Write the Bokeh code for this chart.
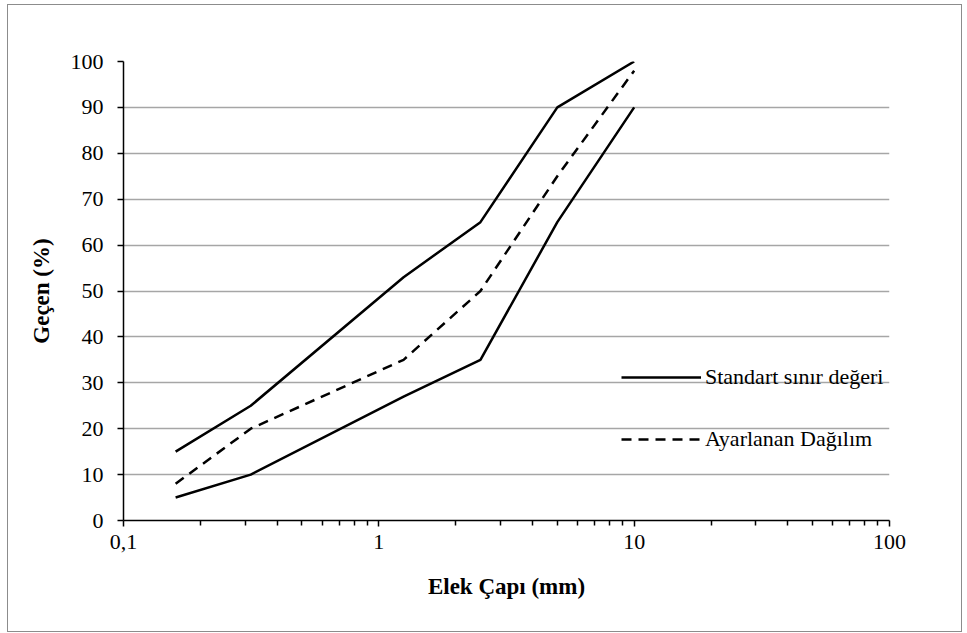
from bokeh.plotting import figure
from bokeh.models import Range1d, FixedTicker, Legend, LegendItem
from bokeh.embed import file_html
from bokeh.resources import INLINE

# sieve sizes (mm)
sieve = [0.16, 0.315, 1.25, 2.5, 5, 10]
upper_limit = [15, 25, 53, 65, 90, 100]
lower_limit = [5, 10, 27, 35, 65, 90]
adjusted = [8, 20, 35, 50, 75, 98]

x_major_ticks = [0.1, 1, 10, 100]
x_minor_ticks = [0.2, 0.3, 0.4, 0.5, 0.6, 0.7, 0.8, 0.9,
                 2, 3, 4, 5, 6, 7, 8, 9,
                 20, 30, 40, 50, 60, 70, 80, 90]
x_tick_labels = {0.1: "0,1", 1: "1", 10: "10", 100: "100"}
y_ticks = [0, 10, 20, 30, 40, 50, 60, 70, 80, 90, 100]

FONT = "Liberation Serif"

p = figure(width=953, height=626, x_axis_type="log",
           x_range=Range1d(0.1, 100), y_range=Range1d(0, 100),
           output_backend="svg", toolbar_location=None,
           min_border_left=115, min_border_right=72,
           min_border_top=56, min_border_bottom=111)
p.margin = (5, 0, 0, 8)
p.styles = {"outline": "1px solid #8c8c8c"}
p.outline_line_color = None
p.background_fill_color = "white"
p.border_fill_color = "white"

l_up = p.line(sieve, upper_limit, line_color="black", line_width=2.5)
p.line(sieve, lower_limit, line_color="black", line_width=2.5)
l_adj = p.line(sieve, adjusted, line_color="black", line_width=2.5, line_dash="10 7")

# axes
xa = p.xaxis[0]
xa.ticker = FixedTicker(ticks=x_major_ticks, minor_ticks=x_minor_ticks)
xa.major_label_overrides = x_tick_labels
xa.axis_label = "Elek Çapı (mm)"
ya = p.yaxis[0]
ya.ticker = FixedTicker(ticks=y_ticks)
ya.axis_label = "Geçen (%)"
for ax in (xa, ya):
    ax.axis_line_color = "black"
    ax.axis_line_width = 1.5
    ax.major_tick_line_color = "black"
    ax.major_tick_line_width = 1.5
    ax.minor_tick_line_color = "black"
    ax.minor_tick_line_width = 1.5
    ax.major_tick_in = 0
    ax.major_tick_out = 6
    ax.minor_tick_in = 0
    ax.minor_tick_out = 5
    ax.major_label_text_font = FONT
    ax.major_label_text_font_size = "22px"
    ax.major_label_text_color = "black"
    ax.axis_label_text_font = FONT
    ax.axis_label_text_font_size = "23px"
    ax.axis_label_text_font_style = "bold"
    ax.axis_label_text_color = "black"
ya.minor_tick_line_color = None
ya.major_label_standoff = 14
xa.major_label_standoff = 8
xa.axis_label_standoff = 22
ya.axis_label_standoff = 14

p.xgrid.grid_line_color = None
p.ygrid.grid_line_color = "#a6a6a6"
p.ygrid.grid_line_width = 1.5
p.ygrid.ticker = FixedTicker(ticks=y_ticks)

legend = Legend(items=[LegendItem(label="Standart sınır değeri", renderers=[l_up]),
                       LegendItem(label="Ayarlanan Dağılım", renderers=[l_adj])],
                location=(498, 66), orientation="vertical",
                glyph_width=80, glyph_height=30, label_height=30, spacing=32,
                label_standoff=4, padding=0, margin=0,
                border_line_alpha=0, background_fill_alpha=0,
                label_text_font=FONT, label_text_font_size="22px",
                label_text_color="black")
p.add_layout(legend)

open("out.html", "w").write(file_html(p, INLINE))
